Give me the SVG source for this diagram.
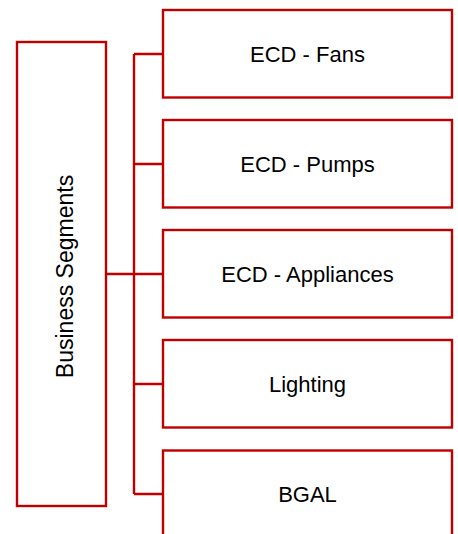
<svg xmlns="http://www.w3.org/2000/svg" width="458" height="534" viewBox="0 0 458 534">
<style>
.box{fill:#fff;stroke:#C00000;stroke-width:2.4}
.conn{fill:none;stroke:#C00000;stroke-width:2.4}
.lbl{font-family:"Liberation Sans",Arial,sans-serif;font-size:22px;fill:#000;text-anchor:middle}
.vert{font-size:23px}
</style>
<rect width="458" height="534" fill="#fff"/>
<g id="connectors">
<path class="conn" d="M106 274H163M134 54V494M134 54H163M134 164H163M134 384H163M134 494H163"/>
</g>
<g id="business-segments">
<rect class="box" x="17" y="42" width="89" height="464"/>
<text class="lbl vert" transform="translate(72.5 276.5) rotate(-90)">Business Segments</text>
</g>
<g id="ecd-fans">
<rect class="box" x="163" y="10" width="289" height="87.5"/>
<text class="lbl" x="307.5" y="62">ECD - Fans</text>
</g>
<g id="ecd-pumps">
<rect class="box" x="163" y="120" width="289" height="87.5"/>
<text class="lbl" x="307.5" y="172">ECD - Pumps</text>
</g>
<g id="ecd-appliances">
<rect class="box" x="163" y="230" width="289" height="87.5"/>
<text class="lbl" x="307.5" y="282">ECD - Appliances</text>
</g>
<g id="lighting">
<rect class="box" x="163" y="340" width="289" height="87.5"/>
<text class="lbl" x="307.5" y="392">Lighting</text>
</g>
<g id="bgal">
<rect class="box" x="163" y="450.5" width="289" height="87.5"/>
<text class="lbl" x="307.5" y="502">BGAL</text>
</g>
</svg>
